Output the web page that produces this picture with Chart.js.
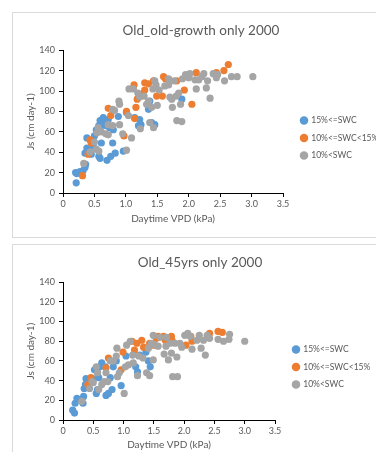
<!DOCTYPE html>
<html>
<head>
<meta charset="utf-8">
<script src="https://cdn.jsdelivr.net/npm/chart.js@4"></script>
<style>
  body { margin: 0; background: #fff; }
  .panel { position: absolute; border: 1px solid #d9d9d9; box-sizing: border-box; }
  canvas { position: absolute; left: 0; top: 0; }
</style>
</head>
<body>
<div class="panel" style="left:12px; top:12px; width:366px; height:226px;"><canvas id="top" width="364" height="224"></canvas></div>
<div class="panel" style="left:12px; top:244px; width:366px; height:210px;"><canvas id="bottom" width="364" height="208"></canvas></div>
<script>
const seriesNames = ['15%<=SWC', '10%<=SWC<15%', '10%<SWC'];
const xTicks = [0, 0.5, 1, 1.5, 2, 2.5, 3, 3.5];
const yTicks = [0, 20, 40, 60, 80, 100, 120, 140];

// Old_old-growth, [VPD kPa, Js cm day-1]
const oldBlue = [[0.21,10],[0.2,20],[0.22,19],[0.27,21],[0.32,22],[0.35,25],[0.36,28],[0.35,39],[0.38,44],[0.38,54],
  [0.45,38],[0.48,46],[0.5,56],[0.53,62],[0.57,66],[0.59,71],[0.64,74],[0.66,71],[0.69,66],[0.61,66],
  [0.57,36],[0.59,34],[0.61,49],[0.7,32],[0.76,36],[0.83,39],[0.79,49],[0.72,72],[0.8,62],[0.74,64],
  [0.88,75],[0.96,41],[1.01,79],[1.14,74],[1.2,66],[1.24,67],[1.22,72],[1.41,69],[1.46,67],[1.36,82],
  [1.38,90],[1.89,92]];
const oldOrange = [[0.31,17],[0.4,38],[0.45,49],[0.43,52],[0.72,83],[0.76,76],[0.97,56],[1.01,80],[1.14,73],[1.13,106],
  [1.16,84],[1.18,92],[1.25,97],[1.3,108],[1.3,101],[1.36,107],[1.44,110],[1.49,95],[1.58,95],[1.6,114],
  [1.63,112],[1.81,110],[1.93,101],[2.05,87],[2.12,118],[2.44,118],[2.56,120],[2.63,126]];
const oldGray = [[0.33,29],[0.43,40],[0.5,50],[0.53,43],[0.54,59],[0.56,64],[0.57,41],[0.61,60],[0.68,58],[0.72,57],
  [0.72,67],[0.79,66],[0.82,81],[0.79,82],[0.89,90],[0.9,87],[0.9,67],[0.95,58],[1.01,42],[1.04,76],
  [1.09,54],[1.05,102],[1.12,102],[1.19,98],[1.22,94],[1.23,63],[1.29,95],[1.33,87],[1.36,90],[1.38,69],
  [1.41,84],[1.43,102],[1.44,64],[1.46,110],[1.48,106],[1.5,86],[1.53,101],[1.62,105],[1.68,106],[1.68,112],
  [1.7,94],[1.73,92],[1.74,84],[1.77,110],[1.8,95],[1.81,71],[1.84,98],[1.87,87],[1.89,70],[1.9,112],
  [1.95,116],[2.0,113],[2.02,117],[2.1,111],[2.12,102],[2.16,111],[2.21,114],[2.24,117],[2.28,103],[2.3,110],
  [2.34,93],[2.39,117],[2.44,113],[2.46,116],[2.57,110],[2.68,114],[2.77,114],[3.02,114]];

// Old_45yrs
const youngBlue = [[0.19,7],[0.16,10],[0.2,17],[0.23,22],[0.33,17],[0.34,24],[0.35,32],[0.37,36],[0.38,42],[0.42,40],
  [0.49,42],[0.52,51],[0.57,48],[0.59,43],[0.55,27],[0.57,31],[0.61,54],[0.64,58],[0.7,54],[0.71,25],
  [0.75,27],[0.81,31],[0.78,43],[0.83,54],[0.88,60],[0.96,35],[1.04,65],[1.2,54],[1.23,49],[1.27,66],
  [1.37,69],[1.41,60],[1.44,54]];
const youngOrange = [[0.41,36],[0.46,43],[0.71,53],[0.75,63],[0.96,51],[0.99,69],[1.14,80],[1.18,71],[1.22,78],[1.3,81],
  [1.33,74],[1.43,78],[1.5,76],[1.54,83],[1.57,85],[1.66,85],[1.69,81],[1.79,85],[1.8,81],[2.03,76],
  [2.11,85],[2.13,80],[2.42,88],[2.56,90],[2.63,89]];
const youngGray = [[0.31,19],[0.44,32],[0.48,39],[0.5,38],[0.55,54],[0.57,48],[0.59,31],[0.64,36],[0.68,39],[0.71,48],
  [0.74,39],[0.78,60],[0.83,60],[0.89,73],[0.88,65],[0.9,44],[0.93,48],[1.01,27],[1.03,54],[1.08,56],
  [1.05,76],[1.11,80],[1.15,66],[1.16,58],[1.23,45],[1.25,65],[1.32,63],[1.38,48],[1.43,45],[1.41,73],
  [1.46,78],[1.49,86],[1.49,61],[1.52,76],[1.57,75],[1.6,84],[1.67,67],[1.7,75],[1.71,84],[1.74,61],
  [1.77,78],[1.79,68],[1.81,44],[1.85,78],[1.88,64],[1.89,44],[1.93,78],[1.96,74],[2.01,86],[2.06,88],
  [2.1,85],[2.13,72],[2.21,81],[2.25,86],[2.28,73],[2.32,81],[2.35,66],[2.38,86],[2.42,83],[2.56,82],
  [2.65,80],[2.74,82],[2.75,87],[3.0,80]];

const colors = ['#5B9BD5', '#ED7D31', '#A5A5A5'];
const txt = '#595959';
Chart.defaults.font.family = 'Lato, "Liberation Sans", sans-serif';

function toPoints(arr) {
  return arr.map(p => ({ x: p[0], y: p[1] }));
}

// nudge the legend down (Excel puts it a bit below the middle)
const legendShift = {
  id: 'legendShift',
  afterLayout(chart, args, opts) {
    chart.legend.top += opts.dy;
    chart.legend.bottom += opts.dy;
  },
};

function makeChart(id, title, series, opt) {
  new Chart(document.getElementById(id), {
    type: 'scatter',
    data: {
      datasets: series.map((s, i) => ({
        label: seriesNames[i],
        data: toPoints(s),
        backgroundColor: colors[i],
        borderWidth: 0,
        pointRadius: 3.6,
        order: 3 - i,
      })),
    },
    plugins: [legendShift],
    options: {
      responsive: false,
      animation: false,
      layout: { padding: { left: 12, right: opt.padR } },
      plugins: {
        tooltip: { enabled: false },
        legendShift: { dy: opt.legendDy },
        title: {
          display: true,
          text: title,
          color: txt,
          font: { size: 13.5, weight: 'normal' },
          padding: { top: 10, bottom: 11 },
        },
        legend: {
          position: 'right',
          maxWidth: opt.legendW,
          labels: {
            usePointStyle: true,
            pointStyle: 'circle',
            boxWidth: 6,
            boxHeight: 6,
            padding: 9,
            color: txt,
            font: { size: 8.5 },
            sort: (a, b) => a.datasetIndex - b.datasetIndex,
          },
        },
      },
      scales: {
        x: {
          type: 'linear',
          min: 0, max: 3.5,
          afterBuildTicks: s => { s.ticks = xTicks.map(v => ({ value: v })); },
          afterFit: s => { s.height = opt.axisH; },
          ticks: { color: txt, font: { size: 9 }, padding: 2 },
          grid: { drawOnChartArea: false, color: '#000', tickLength: 4 },
          border: { color: '#000' },
          title: { display: true, text: 'Daytime VPD (kPa)', color: txt, font: { size: 10 }, padding: { top: 3, bottom: opt.xTitlePad } },
        },
        y: {
          min: 0, max: 140,
          afterBuildTicks: s => { s.ticks = yTicks.map(v => ({ value: v })); },
          afterFit: s => { s.width = 38; },
          ticks: { color: txt, font: { size: 9 }, padding: 4 },
          grid: { drawOnChartArea: false, color: '#000', tickLength: 4 },
          border: { color: '#000' },
          title: { display: true, text: 'Js (cm day-1)', color: txt, font: { size: 10 }, padding: { top: 0, bottom: 2 } },
        },
        pad: {
          type: 'linear',
          position: 'right',
          display: true,
          ticks: { display: false },
          grid: { display: false },
          border: { display: false },
          afterFit: s => { s.width = opt.gap; },
        },
      },
    },
  });
}

makeChart('top', 'Old_old-growth only 2000', [oldBlue, oldOrange, oldGray],
  { axisH: 44, xTitlePad: 12, gap: 9, legendW: 85, padR: 0, legendDy: 13 });
makeChart('bottom', 'Old_45yrs only 2000', [youngBlue, youngOrange, youngGray],
  { axisH: 33, xTitlePad: 2, gap: 9, legendW: 91, padR: 2, legendDy: 18 });
</script>
</body>
</html>
